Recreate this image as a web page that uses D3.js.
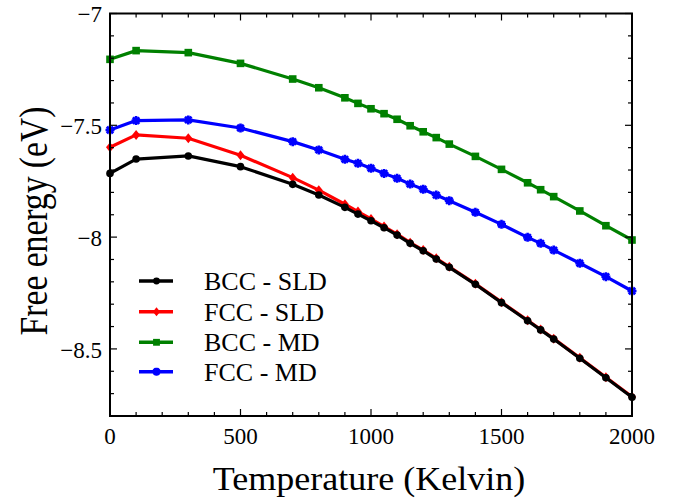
<!DOCTYPE html>
<html><head><meta charset="utf-8">
<script src="https://cdn.jsdelivr.net/npm/d3@7"></script>
<style>body{margin:0;background:#fff}svg{display:block}</style>
</head><body>
<svg id="c" width="674" height="504"></svg>
<script>
const temps = [0,100,300,500,700,800,900,950,1000,1050,1100,1150,1200,1250,1300,1400,1500,1600,1650,1700,1800,1900,2000];
const bccSLD = [-7.715,-7.651,-7.637,-7.685,-7.764,-7.812,-7.867,-7.897,-7.927,-7.958,-7.991,-8.028,-8.061,-8.098,-8.135,-8.211,-8.293,-8.374,-8.415,-8.456,-8.542,-8.629,-8.716];
const fccSLD = [-7.598,-7.543,-7.558,-7.634,-7.734,-7.790,-7.853,-7.886,-7.919,-7.953,-7.987,-8.025,-8.058,-8.095,-8.133,-8.209,-8.291,-8.372,-8.413,-8.454,-8.540,-8.627,-8.714];
const bccMD = [-7.205,-7.166,-7.175,-7.223,-7.293,-7.332,-7.377,-7.402,-7.426,-7.448,-7.473,-7.502,-7.529,-7.555,-7.584,-7.639,-7.697,-7.757,-7.788,-7.819,-7.883,-7.949,-8.013];
const fccMD = [-7.521,-7.479,-7.476,-7.512,-7.573,-7.610,-7.652,-7.670,-7.692,-7.715,-7.737,-7.763,-7.786,-7.812,-7.837,-7.889,-7.943,-8.001,-8.028,-8.058,-8.117,-8.177,-8.241];
const seriesNames = ["BCC - SLD","FCC - SLD","BCC - MD","FCC - MD"];
const seriesColors = ["#000000","#ff0000","#008000","#0000ff"];
const seriesMarkers = ["circle","diamond","square","asterisk"];
const xTicks = [0,500,1000,1500,2000];
const yTicks = [-7,-7.5,-8,-8.5];
const xDomain = [0,2000];
const yDomain = [-8.8,-7];

const svg = d3.select("#c");
const L=110, R=632, T=13.5, B=416;
const x = d3.scaleLinear().domain(xDomain).range([L,R]);
const y = d3.scaleLinear().domain(yDomain).range([B,T]);
const font = "'Liberation Serif','Times New Roman',serif";

const series = [bccSLD, fccSLD, bccMD, fccMD].map((v,i)=>({name:seriesNames[i], color:seriesColors[i], marker:seriesMarkers[i], pts: temps.map((t,j)=>[t,v[j]])}));

function drawMarker(g, type, cx, cy, color, scale){
  scale = scale||1;
  if(type==="circle"){
    g.append("circle").attr("cx",cx).attr("cy",cy).attr("r",3.8*scale).attr("fill",color);
  } else if(type==="diamond"){
    const s=5*scale;
    g.append("path").attr("d",`M${cx},${cy-s}L${cx+s*0.8},${cy}L${cx},${cy+s}L${cx-s*0.8},${cy}Z`).attr("fill",color);
  } else if(type==="square"){
    const s=3.8*scale;
    g.append("rect").attr("x",cx-s).attr("y",cy-s).attr("width",2*s).attr("height",2*s).attr("fill",color);
  } else {
    const s=4.5*scale, d=s*0.72;
    g.append("path").attr("d",`M${cx-s},${cy}L${cx+s},${cy}M${cx},${cy-s}L${cx},${cy+s}M${cx-d},${cy-d}L${cx+d},${cy+d}M${cx-d},${cy+d}L${cx+d},${cy-d}`)
      .attr("stroke",color).attr("stroke-width",2.6).attr("fill","none");
  }
}

const plot = svg.append("g");
const order = [2,3,1,0];
const line = d3.line().x(d=>x(d[0])).y(d=>y(d[1]));
order.forEach(i=>{
  const s = series[i];
  const g = plot.append("g");
  g.append("path").attr("d",line(s.pts)).attr("fill","none").attr("stroke",s.color).attr("stroke-width",3.2).attr("stroke-linejoin","round");
  s.pts.forEach(p=>drawMarker(g,s.marker,x(p[0]),y(p[1]),s.color,1));
});

// axes with inward ticks, mirrored
const minorX = d3.range(0,2001,100), minorY = d3.range(-8.8,-6.99,0.1).map(v=>+v.toFixed(1));
const ax = svg.append("g").attr("stroke","#000");
minorX.forEach(v=>{
  const major = xTicks.includes(v), len = major?7:4;
  ax.append("line").attr("x1",x(v)).attr("x2",x(v)).attr("y1",B).attr("y2",B-len).attr("stroke-width",1.2);
  ax.append("line").attr("x1",x(v)).attr("x2",x(v)).attr("y1",T).attr("y2",T+len).attr("stroke-width",1.2);
});
minorY.forEach(v=>{
  const major = yTicks.some(t=>Math.abs(t-v)<1e-6), len = major?7:4;
  ax.append("line").attr("y1",y(v)).attr("y2",y(v)).attr("x1",L).attr("x2",L+len).attr("stroke-width",1.2);
  ax.append("line").attr("y1",y(v)).attr("y2",y(v)).attr("x1",R).attr("x2",R-len).attr("stroke-width",1.2);
});
svg.append("rect").attr("x",L).attr("y",T).attr("width",R-L).attr("height",B-T).attr("fill","none").attr("stroke","#000").attr("stroke-width",2);

const fmt = d3.format("");
svg.append("g").selectAll("text").data(xTicks).join("text")
  .attr("x",d=>x(d)).attr("y",444).attr("text-anchor","middle")
  .attr("font-family",font).attr("font-size",23).text(d=>fmt(d));
svg.append("g").selectAll("text").data(yTicks).join("text")
  .attr("x",102).attr("y",d=>y(d)).attr("dy","0.38em").attr("text-anchor","end")
  .attr("font-family",font).attr("font-size",23).text(d=>fmt(d));

svg.append("text").attr("transform",`translate(${(L+R)/2-2},490) scale(1.06,1)`).attr("text-anchor","middle")
  .attr("font-family",font).attr("font-size",34).text("Temperature (Kelvin)");
svg.append("text").attr("transform","translate(47,221) rotate(-90) scale(0.84,1)").attr("text-anchor","middle")
  .attr("font-family",font).attr("font-size",40).text("Free energy (eV)");

// legend
const legY = [281,311.7,342.3,371.7];
const leg = svg.append("g");
series.forEach((s,i)=>{
  leg.append("line").attr("x1",139).attr("x2",173).attr("y1",legY[i]).attr("y2",legY[i]).attr("stroke",s.color).attr("stroke-width",3.6);
  drawMarker(leg,s.marker,156.5,legY[i],s.color,0.9);
  leg.append("text").attr("x",204).attr("y",legY[i]).attr("dy","0.35em").attr("font-family",font).attr("font-size",26).text(s.name);
});
</script>
</body></html>
